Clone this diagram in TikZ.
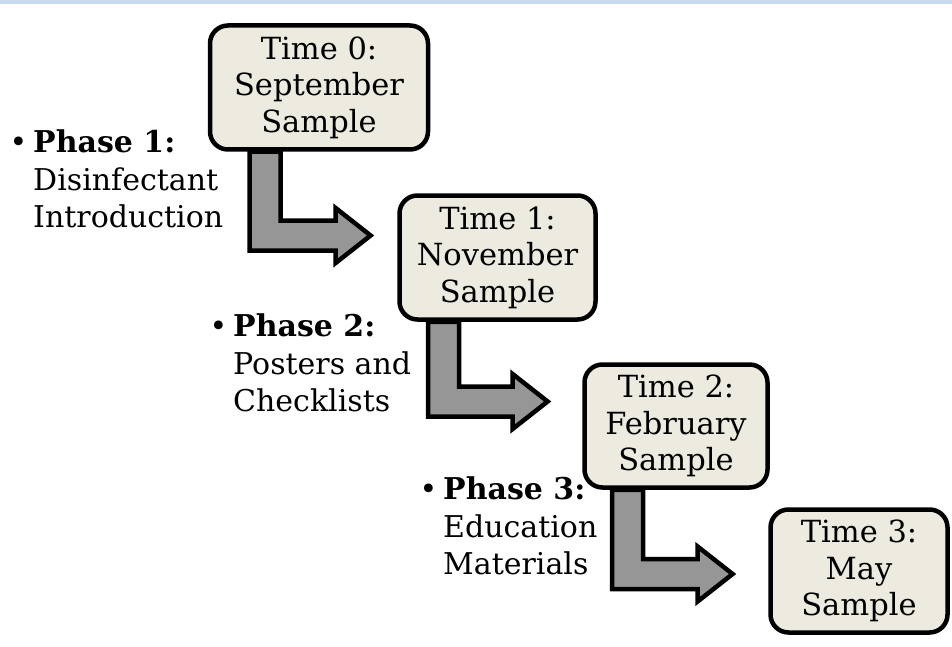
\documentclass[tikz,border=0pt]{standalone}
\usepackage{fontspec}
\setmainfont{DejaVu Serif}
\usetikzlibrary{calc, backgrounds}
\definecolor{boxFill}{RGB}{237,235,224}
\definecolor{arrowGray}{RGB}{150,150,150}
\definecolor{topBand}{RGB}{198,217,240}
\tikzstyle{timeBox} = [draw, line width=4.5pt, rounded corners=18pt,
   fill=boxFill, align=center, inner sep=0pt,
   font=\fontsize{30.5}{36.5}\selectfont]
\tikzstyle{phaseText} = [anchor=north west, align=left, inner sep=0pt,
   font=\fontsize{30}{37.5}\selectfont]
\tikzstyle{bentArrow} = [draw, line width=4.5pt, fill=arrowGray, miter limit=10]
% bent block arrow: #1 start node, #2 bend, #3 tip
\newcommand{\drawBend}[3]{%
   \draw[bentArrow] let \p1=(#1.south), \p2=(#2), \p3=(#3) in
      (\x2-15.5pt,\y1) -- (\x2-15.5pt,\y2-15pt) -- (\x3-35pt,\y2-15pt)
      -- (\x3-35pt,\y2-27.5pt) -- (\x3,\y2) -- (\x3-35pt,\y2+27.5pt)
      -- (\x3-35pt,\y2+15pt) -- (\x2+15.5pt,\y2+15pt) -- (\x2+15.5pt,\y1) -- cycle;}
\begin{document}
\begin{tikzpicture}[x=1pt, y=-1pt]
	\useasboundingbox (0,0) rectangle (952,647);
	\fill[topBand] (0,0) rectangle (952,4);

	\node[timeBox, minimum width=218pt, minimum height=124pt] (t0) at (319,87.5) {Time 0:\\September\\Sample};
	\node[timeBox, minimum width=196pt, minimum height=124pt] (t1) at (497.5,257.5) {Time 1:\\November\\Sample};
	\node[timeBox, minimum width=183pt, minimum height=123pt] (t2) at (676,426) {Time 2:\\February\\Sample};
	\node[timeBox, minimum width=177pt, minimum height=123pt] (t3) at (859,571) {Time 3:\\May\\Sample};

	\node[phaseText] (p1) at (33,130) {\llap{\textbullet\hspace{6pt}}\textbf{Phase 1:}\\Disinfectant\\Introduction};
	\node[phaseText] (p2) at (233,314) {\llap{\textbullet\hspace{6pt}}\textbf{Phase 2:}\\Posters and\\Checklists};
	\node[phaseText] (p3) at (443,477) {\llap{\textbullet\hspace{6pt}}\textbf{Phase 3:}\\Education\\Materials};

	\coordinate (b1) at (265,235.5);
	\coordinate (e1) at (370.6,235.5);
	\coordinate (b2) at (443.5,401.5);
	\coordinate (e2) at (547.6,401.5);
	\coordinate (b3) at (627.5,574);
	\coordinate (e3) at (732.6,574);

	% arrows go under the boxes
	\begin{pgfonlayer}{background}
		\drawBend{t0}{b1}{e1}
		\drawBend{t1}{b2}{e2}
		\drawBend{t2}{b3}{e3}
	\end{pgfonlayer}
\end{tikzpicture}
\end{document}
